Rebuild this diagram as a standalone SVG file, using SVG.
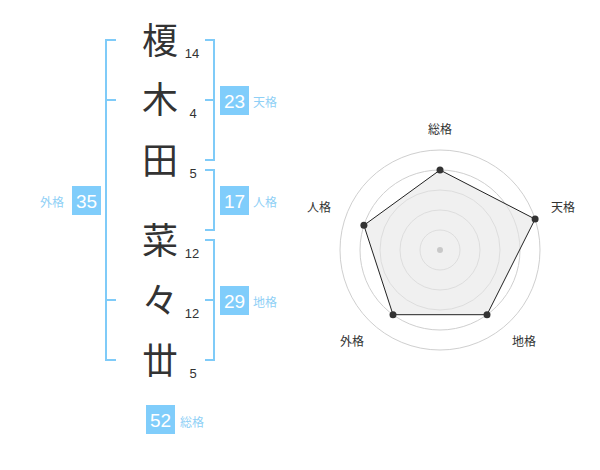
<svg xmlns="http://www.w3.org/2000/svg" width="600" height="470" viewBox="0 0 600 470">
<style>
.br{fill:none;stroke:#7fcbf8;stroke-width:2}
.box{fill:#80cdfb}
.bt{font-family:"Liberation Sans",Arial,sans-serif;font-size:19px;fill:#fff;text-anchor:middle}
.lb{font-family:"Noto Sans CJK JP","Noto Sans CJK SC",sans-serif;font-size:12px;fill:#8fd0f6}
.ch{font-family:"Noto Sans CJK JP","Noto Sans CJK SC",sans-serif;font-size:36px;fill:#333;text-anchor:middle}
.num{font-family:"Liberation Sans",Arial,sans-serif;font-size:13px;fill:#333;text-anchor:middle}
.ring{fill:none;stroke:#cfcfcf;stroke-width:1}
.rl{font-family:"Noto Sans CJK JP","Noto Sans CJK SC",sans-serif;font-size:12px;fill:#333;text-anchor:middle}
.dot{fill:#333}
</style>
<rect width="600" height="470" fill="#fff"/>
<g id="connectors">
<path class="br" d="M116,40 H106 V360 H116 M106,100 H116 M106,300 H116"/>
<path class="br" d="M205,40 H214 V160 H205 M205,100 H214"/>
<path class="br" d="M205,170 H214 V230 H205"/>
<path class="br" d="M205,240 H214 V360 H205 M205,300 H214"/>
</g>
<g id="chars">
<text class="ch" x="160" y="54">榎</text>
<text class="ch" x="160" y="113">木</text>
<text class="ch" x="160" y="174">田</text>
<text class="ch" x="160" y="254">菜</text>
<text class="ch" x="160" y="314">々</text>
<text class="ch" x="160" y="374">丗</text>
</g>
<g id="strokes">
<text class="num" x="192" y="58">14</text>
<text class="num" x="193" y="118">4</text>
<text class="num" x="193" y="178">5</text>
<text class="num" x="192" y="258">12</text>
<text class="num" x="192" y="318">12</text>
<text class="num" x="193" y="378">5</text>
</g>
<g id="tenkaku">
<rect class="box" x="220" y="86" width="29" height="29"/>
<text class="bt" x="234.5" y="107.5">23</text>
<text class="lb" x="253" y="107">天格</text>
</g>
<g id="jinkaku">
<rect class="box" x="220" y="186" width="29" height="29"/>
<text class="bt" x="234.5" y="207.5">17</text>
<text class="lb" x="253" y="207">人格</text>
</g>
<g id="chikaku">
<rect class="box" x="220" y="286" width="29" height="29"/>
<text class="bt" x="234.5" y="307.5">29</text>
<text class="lb" x="253" y="307">地格</text>
</g>
<g id="gaikaku">
<rect class="box" x="72" y="186" width="29" height="29"/>
<text class="bt" x="86.5" y="207.5">35</text>
<text class="lb" x="40" y="207">外格</text>
</g>
<g id="soukaku">
<rect class="box" x="146" y="405" width="29" height="29"/>
<text class="bt" x="160.5" y="426.5">52</text>
<text class="lb" x="180" y="427">総格</text>
</g>
<g id="radar">
<circle class="ring" cx="440" cy="250" r="20"/>
<circle class="ring" cx="440" cy="250" r="40"/>
<circle class="ring" cx="440" cy="250" r="60"/>
<circle class="ring" cx="440" cy="250" r="80"/>
<circle class="ring" cx="440" cy="250" r="100"/>
<polygon points="440,170 535.1,219.1 487,314.7 393,314.7 363.9,225.3" fill="#e6e6e6" fill-opacity="0.6" stroke="#222" stroke-width="1"/>
<circle cx="440" cy="250" r="3" fill="#c8c8c8"/>
<circle class="dot" cx="440" cy="170" r="3.5"/>
<circle class="dot" cx="535.1" cy="219.1" r="3.5"/>
<circle class="dot" cx="487" cy="314.7" r="3.5"/>
<circle class="dot" cx="393" cy="314.7" r="3.5"/>
<circle class="dot" cx="363.9" cy="225.3" r="3.5"/>
<text class="rl" x="440" y="134">総格</text>
<text class="rl" x="563" y="212">天格</text>
<text class="rl" x="319" y="212">人格</text>
<text class="rl" x="352" y="346">外格</text>
<text class="rl" x="524" y="346">地格</text>
</g>
</svg>
